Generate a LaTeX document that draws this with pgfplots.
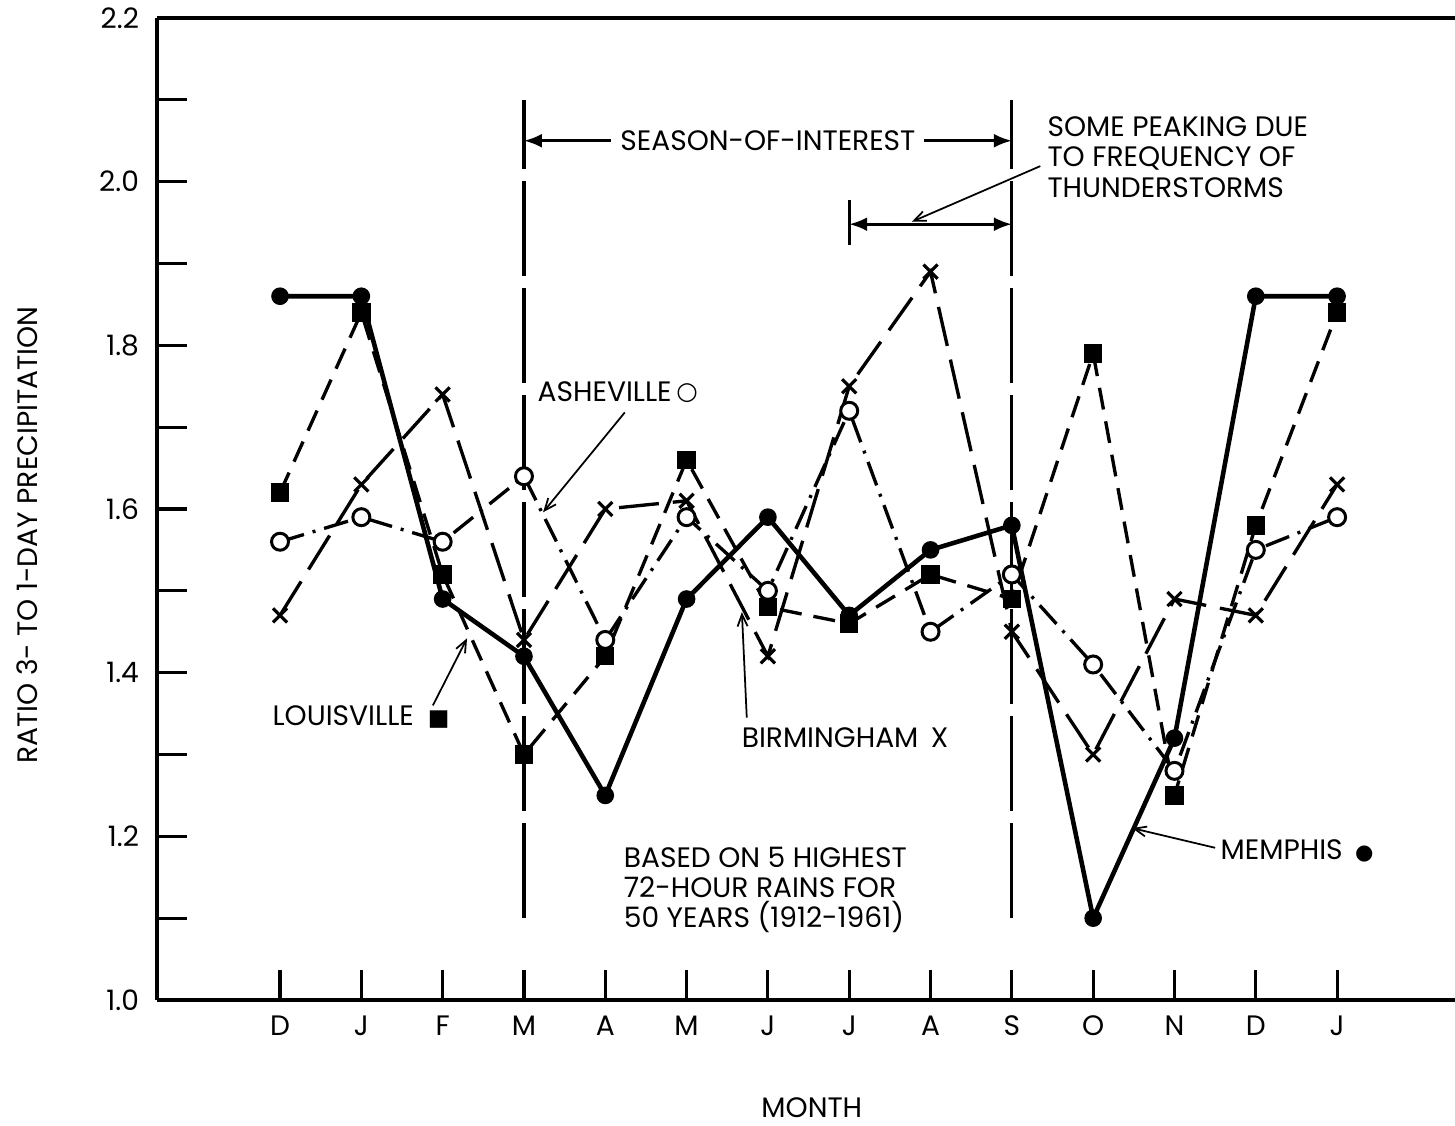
\documentclass[border=0pt]{standalone}
\usepackage{pgfplots}
\pgfplotsset{compat=1.18}
\usepackage{pgfplotstable}
\usepackage{fontspec}
\setmainfont{Poppins}
\newfontfamily\dv{DejaVu Sans}
\usetikzlibrary{arrows.meta}

\pgfplotstableread{
x mem lou ash bir
0  1.86 1.62 1.56 1.47
1  1.86 1.84 1.59 1.63
2  1.49 1.52 1.56 1.74
3  1.42 1.30 1.64 1.44
4  1.25 1.42 1.44 1.60
5  1.49 1.66 1.59 1.61
6  1.59 1.48 1.50 1.42
7  1.47 1.46 1.72 1.75
8  1.55 1.52 1.45 1.89
9  1.58 1.49 1.52 1.45
10 1.10 1.79 1.41 1.30
11 1.32 1.25 1.28 1.49
12 1.86 1.58 1.55 1.47
13 1.86 1.84 1.59 1.63
}\data

\begin{document}
\fontsize{8pt}{8.6pt}\selectfont
\begin{tikzpicture}
\begin{axis}[name=ax, scale only axis, width=129.8mm, height=98.2mm,
  xmin=-1.513, xmax=14.45, ymin=1, ymax=2.2,
  axis x line*=bottom, axis y line*=left,
  axis line style={line width=0.9pt},
  xtick={0,...,13}, xticklabels={D,J,F,M,A,M,J,J,A,S,O,N,D,J},
  ytick={1.0,1.2,1.4,1.6,1.8,2.0,2.2}, minor ytick={1.1,1.3,1.5,1.7,1.9,2.1},
  tick align=inside, major tick length=3mm, minor tick length=3mm,
  every tick/.style={line width=0.9pt, black},
  minor tick style={line width=0.9pt, black},
  yticklabel style={/pgf/number format/fixed,/pgf/number format/fixed zerofill,/pgf/number format/precision=1,xshift=-0.8mm},
  /pgf/number format/assume math mode=true,
  xticklabel style={yshift=-0.6mm},
  tick label style={font=\fontsize{8pt}{8.5pt}\selectfont},
  clip=false,
]
\draw[line width=0.9pt] (rel axis cs:0,1) -- (rel axis cs:1,1);

% season boundaries
\draw[line width=0.9pt, dash pattern=on 9.5mm off 1.2mm] (axis cs:3,1.10) -- (axis cs:3,2.10);
\draw[line width=0.9pt, dash pattern=on 9.5mm off 1.2mm] (axis cs:9,1.10) -- (axis cs:9,2.10);

\addplot[black, line width=0.95pt, dash pattern=on 4mm off 1.4mm, mark=x, mark size=1.0mm, mark options={solid, line width=0.9pt}] table[x=x,y=bir]{\data};
\addplot[black, line width=0.95pt, dash pattern=on 2.2mm off 1.2mm, mark=square*, mark size=0.75mm, mark options={solid}] table[x=x,y=lou]{\data};
\addplot[black, line width=1.3pt, mark=*, mark size=0.65mm] table[x=x,y=mem]{\data};
\addplot[black, line width=0.95pt, dash pattern=on 2.5mm off 0.9mm on 0.3mm off 0.9mm, mark=*, mark size=0.85mm, mark options={solid, fill=white, draw=black, line width=0.85pt}] table[x=x,y=ash]{\data};

% season of interest arrow
\draw[line width=0.8pt, -{Latex[length=1.8mm,width=1.4mm]}] (axis cs:6,2.05) -- (axis cs:3,2.05);
\draw[line width=0.8pt, -{Latex[length=1.8mm,width=1.4mm]}] (axis cs:6,2.05) -- (axis cs:9,2.05);
\node[fill=white, inner sep=0.9mm] at (axis cs:6.0,2.05) {SEASON-OF-INTEREST};

% peaking arrow
\draw[line width=0.8pt, {Latex[length=1.8mm,width=1.4mm]}-{Latex[length=1.8mm,width=1.4mm]}] (axis cs:7,1.948) -- (axis cs:9,1.948);
\draw[line width=0.9pt] (axis cs:7,1.978) -- (axis cs:7,1.922);
\draw[line width=0.5pt, -{Straight Barb[length=1.2mm,width=1mm]}] (axis cs:9.35,2.019) -- (axis cs:7.77,1.951);
\node[anchor=north west, align=left, inner sep=0] at (axis cs:9.43,2.08) {SOME PEAKING DUE\\TO FREQUENCY OF\\THUNDERSTORMS};

% notes
\node[anchor=north west, align=left, inner sep=0] at (axis cs:4.22,1.188) {BASED ON 5 HIGHEST\\72-HOUR RAINS FOR\\50 YEARS (1912-1961)};

% series labels
\node[anchor=west, inner sep=0] at (axis cs:3.16,1.743) {ASHEVILLE\,\raisebox{0.25mm}{\dv\fontsize{7pt}{7pt}\selectfont ○}};
\draw[line width=0.5pt, -{Straight Barb[length=1.2mm,width=1mm]}] (axis cs:4.24,1.718) -- (axis cs:3.235,1.596);
\node[anchor=west, inner sep=0] at (axis cs:-0.10,1.346) {LOUISVILLE\enspace{\dv\fontsize{6.5pt}{6.5pt}\selectfont ■}};
\draw[line width=0.5pt, -{Straight Barb[length=1.2mm,width=1mm]}] (axis cs:1.88,1.360) -- (axis cs:2.30,1.442);
\node[anchor=west, inner sep=0] at (axis cs:5.67,1.320) {BIRMINGHAM\;\,X};
\draw[line width=0.5pt, -{Straight Barb[length=1.2mm,width=1mm]}] (axis cs:5.74,1.345) -- (axis cs:5.68,1.474);
\node[anchor=west, inner sep=0] at (axis cs:11.56,1.182) {MEMPHIS\;\,{\dv\fontsize{6pt}{6pt}\selectfont ●}};
\draw[line width=0.5pt, -{Straight Barb[length=1.2mm,width=1mm]}] (axis cs:11.50,1.186) -- (axis cs:10.48,1.210);

% axis titles
\node[rotate=90] at (axis cs:-3.11,1.568) {RATIO 3- TO 1-DAY PRECIPITATION};
\node at (axis cs:6.54,0.868) {MONTH};
\end{axis}
\pgfresetboundingbox
\path[use as bounding box] ([shift={(-15.7mm,-12.6mm)}]ax.south west) rectangle ([shift={(0mm,1.8mm)}]ax.north east);
\end{tikzpicture}
\end{document}
